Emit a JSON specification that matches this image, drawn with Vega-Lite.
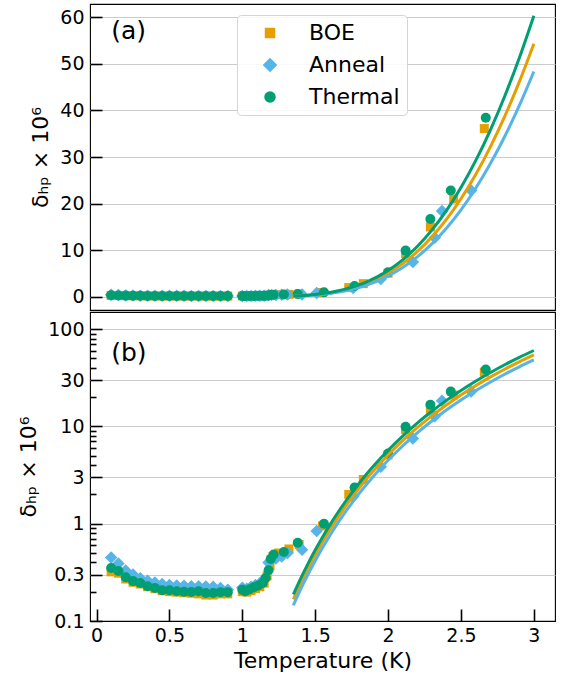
{
  "$schema": "https://vega.github.io/schema/vega-lite/v6.json",
  "padding": {"left": 17, "top": 3, "right": 6, "bottom": 5},
  "spacing": 0,
  "config": {
    "font": "DejaVu Sans",
    "view": {"stroke": "black", "strokeWidth": 1.1},
    "axis": {"labelFont": "DejaVu Sans", "titleFont": "DejaVu Sans", "labelFontSize": 19, "titleFontSize": 22, "titleFontWeight": "normal", "labelColor": "black", "titleColor": "black", "tickColor": "black", "domain": false, "tickWidth": 1.6, "gridColor": "#cccccc", "gridWidth": 1.2, "labelFlush": false, "labelOverlap": false},
    "legend": {"labelFont": "DejaVu Sans", "labelFontSize": 22, "labelColor": "black", "symbolSize": 100}
  },
  "datasets": {
    "pts": [
      {"s":"BOE","T":0.10,"d":0.32},{"s":"BOE","T":0.15,"d":0.31},{"s":"BOE","T":0.20,"d":0.27},{"s":"BOE","T":0.25,"d":0.25},{"s":"BOE","T":0.30,"d":0.24},{"s":"BOE","T":0.35,"d":0.225},{"s":"BOE","T":0.40,"d":0.215},{"s":"BOE","T":0.45,"d":0.205},{"s":"BOE","T":0.50,"d":0.20},{"s":"BOE","T":0.55,"d":0.198},{"s":"BOE","T":0.60,"d":0.195},{"s":"BOE","T":0.65,"d":0.193},{"s":"BOE","T":0.70,"d":0.19},{"s":"BOE","T":0.75,"d":0.185},{"s":"BOE","T":0.80,"d":0.185},{"s":"BOE","T":0.85,"d":0.19},{"s":"BOE","T":0.90,"d":0.19},
      {"s":"BOE","T":1.00,"d":0.20},{"s":"BOE","T":1.03,"d":0.198},{"s":"BOE","T":1.06,"d":0.205},{"s":"BOE","T":1.09,"d":0.215},{"s":"BOE","T":1.12,"d":0.225},{"s":"BOE","T":1.15,"d":0.245},{"s":"BOE","T":1.17,"d":0.29},{"s":"BOE","T":1.19,"d":0.37},{"s":"BOE","T":1.21,"d":0.46},{"s":"BOE","T":1.25,"d":0.50},{"s":"BOE","T":1.32,"d":0.55},{"s":"BOE","T":1.39,"d":0.61},
      {"s":"BOE","T":1.55,"d":0.95},{"s":"BOE","T":1.73,"d":2.0},{"s":"BOE","T":1.83,"d":2.85},{"s":"BOE","T":2.0,"d":5.1},{"s":"BOE","T":2.12,"d":9.3},{"s":"BOE","T":2.29,"d":15.0},{"s":"BOE","T":2.45,"d":21.0},{"s":"BOE","T":2.66,"d":36.1},
      {"s":"Anneal","T":0.10,"d":0.45},{"s":"Anneal","T":0.15,"d":0.39},{"s":"Anneal","T":0.20,"d":0.33},{"s":"Anneal","T":0.25,"d":0.30},{"s":"Anneal","T":0.30,"d":0.275},{"s":"Anneal","T":0.35,"d":0.26},{"s":"Anneal","T":0.40,"d":0.248},{"s":"Anneal","T":0.45,"d":0.24},{"s":"Anneal","T":0.50,"d":0.235},{"s":"Anneal","T":0.55,"d":0.232},{"s":"Anneal","T":0.60,"d":0.23},{"s":"Anneal","T":0.65,"d":0.228},{"s":"Anneal","T":0.70,"d":0.228},{"s":"Anneal","T":0.75,"d":0.226},{"s":"Anneal","T":0.80,"d":0.225},{"s":"Anneal","T":0.85,"d":0.218},{"s":"Anneal","T":0.90,"d":0.21},
      {"s":"Anneal","T":1.00,"d":0.22},{"s":"Anneal","T":1.03,"d":0.215},{"s":"Anneal","T":1.06,"d":0.225},{"s":"Anneal","T":1.09,"d":0.235},{"s":"Anneal","T":1.12,"d":0.245},{"s":"Anneal","T":1.15,"d":0.27},{"s":"Anneal","T":1.18,"d":0.40},{"s":"Anneal","T":1.20,"d":0.43},{"s":"Anneal","T":1.23,"d":0.44},{"s":"Anneal","T":1.27,"d":0.46},{"s":"Anneal","T":1.31,"d":0.50},{"s":"Anneal","T":1.41,"d":0.54},
      {"s":"Anneal","T":1.51,"d":0.84},{"s":"Anneal","T":1.76,"d":1.9},{"s":"Anneal","T":1.95,"d":3.85},{"s":"Anneal","T":2.17,"d":7.5},{"s":"Anneal","T":2.32,"d":12.7},{"s":"Anneal","T":2.37,"d":18.4},{"s":"Anneal","T":2.57,"d":22.8},
      {"s":"Thermal","T":0.10,"d":0.351},{"s":"Thermal","T":0.15,"d":0.326},{"s":"Thermal","T":0.20,"d":0.282},{"s":"Thermal","T":0.25,"d":0.257},{"s":"Thermal","T":0.30,"d":0.246},{"s":"Thermal","T":0.35,"d":0.228},{"s":"Thermal","T":0.40,"d":0.219},{"s":"Thermal","T":0.45,"d":0.207},{"s":"Thermal","T":0.50,"d":0.207},{"s":"Thermal","T":0.55,"d":0.202},{"s":"Thermal","T":0.60,"d":0.200},{"s":"Thermal","T":0.65,"d":0.199},{"s":"Thermal","T":0.70,"d":0.202},{"s":"Thermal","T":0.75,"d":0.194},{"s":"Thermal","T":0.80,"d":0.194},{"s":"Thermal","T":0.85,"d":0.198},{"s":"Thermal","T":0.90,"d":0.198},
      {"s":"Thermal","T":1.00,"d":0.210},{"s":"Thermal","T":1.02,"d":0.202},{"s":"Thermal","T":1.05,"d":0.212},{"s":"Thermal","T":1.08,"d":0.222},{"s":"Thermal","T":1.11,"d":0.232},{"s":"Thermal","T":1.14,"d":0.246},{"s":"Thermal","T":1.16,"d":0.277},{"s":"Thermal","T":1.18,"d":0.333},{"s":"Thermal","T":1.195,"d":0.435},{"s":"Thermal","T":1.215,"d":0.482},{"s":"Thermal","T":1.285,"d":0.511},
      {"s":"Thermal","T":1.38,"d":0.637},{"s":"Thermal","T":1.56,"d":1.0},{"s":"Thermal","T":1.77,"d":2.35},{"s":"Thermal","T":2.0,"d":5.27},{"s":"Thermal","T":2.12,"d":9.93},{"s":"Thermal","T":2.29,"d":16.7},{"s":"Thermal","T":2.43,"d":22.8},{"s":"Thermal","T":2.67,"d":38.4}
    ],
    "fit": [
      {"s":"BOE","T":1.35,"d":0.1668},{"s":"BOE","T":1.40,"d":0.2428},{"s":"BOE","T":1.45,"d":0.3445},{"s":"BOE","T":1.50,"d":0.4774},{"s":"BOE","T":1.55,"d":0.648},{"s":"BOE","T":1.60,"d":0.8628},{"s":"BOE","T":1.65,"d":1.129},{"s":"BOE","T":1.70,"d":1.4543},{"s":"BOE","T":1.75,"d":1.8462},{"s":"BOE","T":1.80,"d":2.3129},{"s":"BOE","T":1.85,"d":2.8625},{"s":"BOE","T":1.90,"d":3.5034},{"s":"BOE","T":1.95,"d":4.2434},{"s":"BOE","T":2.00,"d":5.0907},{"s":"BOE","T":2.10,"d":7.138},{"s":"BOE","T":2.20,"d":9.707},{"s":"BOE","T":2.30,"d":12.853},{"s":"BOE","T":2.40,"d":16.62},{"s":"BOE","T":2.50,"d":21.06},{"s":"BOE","T":2.60,"d":26.2},{"s":"BOE","T":2.70,"d":32.08},{"s":"BOE","T":2.80,"d":38.71},{"s":"BOE","T":2.90,"d":46.1},{"s":"BOE","T":3.00,"d":54.28},
      {"s":"Anneal","T":1.35,"d":0.1449},{"s":"Anneal","T":1.40,"d":0.2113},{"s":"Anneal","T":1.45,"d":0.3002},{"s":"Anneal","T":1.50,"d":0.4166},{"s":"Anneal","T":1.55,"d":0.5661},{"s":"Anneal","T":1.60,"d":0.7547},{"s":"Anneal","T":1.65,"d":0.9888},{"s":"Anneal","T":1.70,"d":1.275},{"s":"Anneal","T":1.75,"d":1.6201},{"s":"Anneal","T":1.80,"d":2.0317},{"s":"Anneal","T":1.85,"d":2.5168},{"s":"Anneal","T":1.90,"d":3.0827},{"s":"Anneal","T":1.95,"d":3.7371},{"s":"Anneal","T":2.00,"d":4.4867},{"s":"Anneal","T":2.10,"d":6.30},{"s":"Anneal","T":2.20,"d":8.579},{"s":"Anneal","T":2.30,"d":11.372},{"s":"Anneal","T":2.40,"d":14.724},{"s":"Anneal","T":2.50,"d":18.674},{"s":"Anneal","T":2.60,"d":23.255},{"s":"Anneal","T":2.70,"d":28.49},{"s":"Anneal","T":2.80,"d":34.4},{"s":"Anneal","T":2.90,"d":41.01},{"s":"Anneal","T":3.00,"d":48.33},
      {"s":"Thermal","T":1.35,"d":0.1875},{"s":"Thermal","T":1.40,"d":0.2729},{"s":"Thermal","T":1.45,"d":0.3868},{"s":"Thermal","T":1.50,"d":0.5357},{"s":"Thermal","T":1.55,"d":0.7267},{"s":"Thermal","T":1.60,"d":0.9669},{"s":"Thermal","T":1.65,"d":1.2645},{"s":"Thermal","T":1.70,"d":1.6279},{"s":"Thermal","T":1.75,"d":2.0657},{"s":"Thermal","T":1.80,"d":2.5868},{"s":"Thermal","T":1.85,"d":3.1998},{"s":"Thermal","T":1.90,"d":3.9146},{"s":"Thermal","T":1.95,"d":4.7394},{"s":"Thermal","T":2.00,"d":5.6833},{"s":"Thermal","T":2.10,"d":7.9645},{"s":"Thermal","T":2.20,"d":10.823},{"s":"Thermal","T":2.30,"d":14.322},{"s":"Thermal","T":2.40,"d":18.513},{"s":"Thermal","T":2.50,"d":23.445},{"s":"Thermal","T":2.60,"d":29.155},{"s":"Thermal","T":2.70,"d":35.67},{"s":"Thermal","T":2.80,"d":43.03},{"s":"Thermal","T":2.90,"d":51.23},{"s":"Thermal","T":3.00,"d":60.3}
    ]
  },
  "resolve": {"scale": {"color": "shared", "shape": "shared", "stroke": "shared"}},
  "vconcat": [
    {
      "width": 465,
      "height": 306,
      "encoding": {
        "x": {"field": "T", "type": "quantitative", "scale": {"domain": [-0.045, 3.145], "nice": false, "zero": false}, "axis": null},
        "y": {"field": "d", "type": "quantitative", "scale": {"domain": [-2.8, 62.8], "nice": false, "zero": false},
              "axis": {"values": [0, 10, 20, 30, 40, 50, 60], "title": "δₕₚ × 10⁶", "tickSize": -12, "labelPadding": 18, "titlePadding": 7, "grid": true}}
      },
      "layer": [
        {
          "data": {"name": "pts"},
          "mark": {"type": "point", "filled": true, "opacity": 1, "size": 100},
          "encoding": {
            "color": {"field": "s", "type": "nominal", "scale": {"domain": ["BOE", "Anneal", "Thermal"], "range": ["#E69F00", "#56B4E9", "#009E73"]},
                      "legend": {"title": null, "orient": "none", "legendX": 147, "legendY": 11, "fillColor": "rgba(255,255,255,0.85)", "strokeColor": "#d5d5d5", "cornerRadius": 4, "padding": 7, "symbolOffset": 15, "labelOffset": 28, "rowPadding": 10, "labelFontSize": 22}},
            "shape": {"field": "s", "type": "nominal", "scale": {"domain": ["BOE", "Anneal", "Thermal"], "range": ["M-0.9,-0.9L0.9,-0.9L0.9,0.9L-0.9,0.9Z", "M-1.25,0L0,-1.25L1.25,0L0,1.25Z", "circle"]}}
          }
        },
        {
          "data": {"name": "fit"},
          "mark": {"type": "line", "strokeWidth": 3, "interpolate": "monotone"},
          "encoding": {
            "stroke": {"field": "s", "type": "nominal", "scale": {"domain": ["BOE", "Anneal", "Thermal"], "range": ["#E69F00", "#56B4E9", "#009E73"]}, "legend": null}
          }
        },
        {
          "data": {"values": [{"T": 0.1, "d": 57, "lab": "(a)"}]},
          "mark": {"type": "text", "align": "left", "baseline": "middle", "fontSize": 25, "font": "DejaVu Sans", "color": "black"},
          "encoding": {"text": {"field": "lab"}}
        }
      ]
    },
    {
      "width": 465,
      "height": 309,
      "encoding": {
        "x": {"field": "T", "type": "quantitative", "scale": {"domain": [-0.045, 3.145], "nice": false, "zero": false},
              "axis": {"values": [0, 0.5, 1, 1.5, 2, 2.5, 3], "format": "~g", "title": "Temperature (K)", "tickSize": -12, "labelPadding": 17, "titlePadding": 5, "grid": false}},
        "y": {"field": "d", "type": "quantitative", "scale": {"type": "log", "domain": [0.1, 150], "nice": false},
              "axis": {"values": [0.1, 0.2, 0.3, 0.4, 0.5, 0.6, 0.7, 0.8, 0.9, 1, 2, 3, 4, 5, 6, 7, 8, 9, 10, 20, 30, 40, 50, 60, 70, 80, 90, 100],
                       "format": "~g",
                       "labelExpr": "indexof([0.1, 0.3, 1, 3, 10, 30, 100], datum.value) >= 0 ? datum.label : ''",
                       "tickSize": {"condition": {"test": "indexof([0.1, 0.3, 1, 3, 10, 30, 100], datum.value) >= 0", "value": -12}, "value": -6},
                       "gridOpacity": {"condition": {"test": "indexof([0.3, 1, 3, 10, 30, 100], datum.value) >= 0", "value": 1}, "value": 0},
                       "labelPadding": 18, "titlePadding": 7, "grid": true, "title": "δₕₚ × 10⁶"}}
      },
      "layer": [
        {
          "data": {"name": "pts"},
          "mark": {"type": "point", "filled": true, "opacity": 1, "size": 100},
          "encoding": {
            "color": {"field": "s", "type": "nominal", "scale": {"domain": ["BOE", "Anneal", "Thermal"], "range": ["#E69F00", "#56B4E9", "#009E73"]}},
            "shape": {"field": "s", "type": "nominal", "scale": {"domain": ["BOE", "Anneal", "Thermal"], "range": ["M-0.9,-0.9L0.9,-0.9L0.9,0.9L-0.9,0.9Z", "M-1.25,0L0,-1.25L1.25,0L0,1.25Z", "circle"]}}
          }
        },
        {
          "data": {"name": "fit"},
          "mark": {"type": "line", "strokeWidth": 3, "interpolate": "monotone"},
          "encoding": {
            "stroke": {"field": "s", "type": "nominal", "scale": {"domain": ["BOE", "Anneal", "Thermal"], "range": ["#E69F00", "#56B4E9", "#009E73"]}, "legend": null}
          }
        },
        {
          "data": {"values": [{"T": 0.1, "d": 57, "lab": "(b)"}]},
          "mark": {"type": "text", "align": "left", "baseline": "middle", "fontSize": 25, "font": "DejaVu Sans", "color": "black"},
          "encoding": {"text": {"field": "lab"}}
        }
      ]
    }
  ]
}
